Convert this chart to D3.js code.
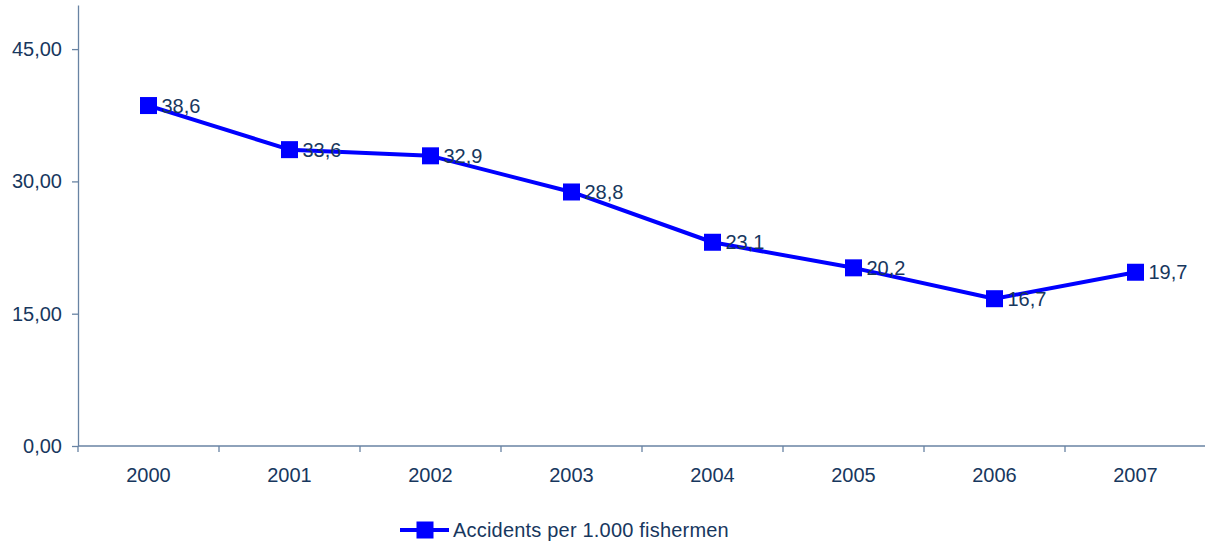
<!DOCTYPE html>
<html lang="en">
<head>
    <meta charset="UTF-8">
    <script src="https://d3js.org/d3.v7.min.js"></script>
    <style>
        body { margin: 0; background: #fff; font-family: "Liberation Sans", Arial, sans-serif; }
        .axis path, .axis line { stroke: #6883a3; stroke-width: 1.3px; }
        .axis text { font-size: 20px; fill: #17375e; font-family: "Liberation Sans", Arial, sans-serif; }
        .label { font-size: 20px; fill: #17375e; }
        .legend { font-size: 20px; fill: #17375e; letter-spacing: 0.2px; }
    </style>
</head>
<body>
    <svg id="chart"></svg>
    <script>
        const years = ["2000", "2001", "2002", "2003", "2004", "2005", "2006", "2007"];
        const accidents = [38.6, 33.6, 32.9, 28.8, 23.1, 20.2, 16.7, 19.7];
        const yTicks = [0, 15, 30, 45];
        const seriesName = "Accidents per 1.000 fishermen";

        const data = years.map((y, i) => ({ year: y, value: accidents[i] }));

        const width = 1205;
        const height = 542;
        const margin = { top: 5, right: 0, bottom: 96, left: 78 };

        const svg = d3.select("#chart")
            .attr("width", width)
            .attr("height", height);

        const x = d3.scaleBand()
            .domain(years)
            .range([margin.left, width + 1]);

        const y = d3.scaleLinear()
            .domain([0, 50])
            .range([height - margin.bottom, margin.top]);

        const fmt = d => d.toFixed(2).replace(".", ",");

        // x axis: ticks on band edges
        const xAxis = svg.append("g")
            .attr("class", "axis")
            .attr("transform", `translate(0,${y(0)})`)
            .call(d3.axisBottom(x).tickSize(0).tickPadding(22));
        xAxis.select(".domain").attr("d", `M${margin.left},0H${width}`);
        xAxis.selectAll(".edge")
            .data(years.slice(1))
            .enter()
            .append("line")
            .attr("class", "edge")
            .attr("x1", d => x(d))
            .attr("x2", d => x(d))
            .attr("y1", 0)
            .attr("y2", 6);
        xAxis.append("line")
            .attr("x1", margin.left).attr("x2", margin.left)
            .attr("y1", 0).attr("y2", 6);

        // y axis
        svg.append("g")
            .attr("class", "axis")
            .attr("transform", `translate(${margin.left},0)`)
            .call(d3.axisLeft(y).tickValues(yTicks).tickFormat(fmt).tickSize(6).tickPadding(10).tickSizeOuter(0));

        const cx = d => x(d.year) + x.bandwidth() / 2;

        const line = d3.line()
            .x(cx)
            .y(d => y(d.value));

        svg.append("path")
            .datum(data)
            .attr("fill", "none")
            .attr("stroke", "#0000ff")
            .attr("stroke-width", 4)
            .attr("stroke-linejoin", "round")
            .attr("d", line);

        const ms = 17;
        svg.selectAll(".marker")
            .data(data)
            .enter()
            .append("rect")
            .attr("class", "marker")
            .attr("x", d => cx(d) - ms / 2)
            .attr("y", d => y(d.value) - ms / 2)
            .attr("width", ms)
            .attr("height", ms)
            .attr("fill", "#0000ff");

        svg.selectAll(".label")
            .data(data)
            .enter()
            .append("text")
            .attr("class", "label")
            .attr("x", d => cx(d) + 13)
            .attr("y", d => y(d.value))
            .attr("dy", "0.35em")
            .text(d => d.value.toFixed(1).replace(".", ","));

        // legend
        const lg = svg.append("g").attr("transform", "translate(400,530)");
        lg.append("line")
            .attr("x1", 0).attr("x2", 49)
            .attr("stroke", "#0000ff").attr("stroke-width", 4);
        lg.append("rect")
            .attr("x", 25 - ms / 2).attr("y", -ms / 2)
            .attr("width", ms).attr("height", ms)
            .attr("fill", "#0000ff");
        lg.append("text")
            .attr("class", "legend")
            .attr("x", 53)
            .attr("dy", "0.35em")
            .text(seriesName);
    </script>
</body>
</html>
